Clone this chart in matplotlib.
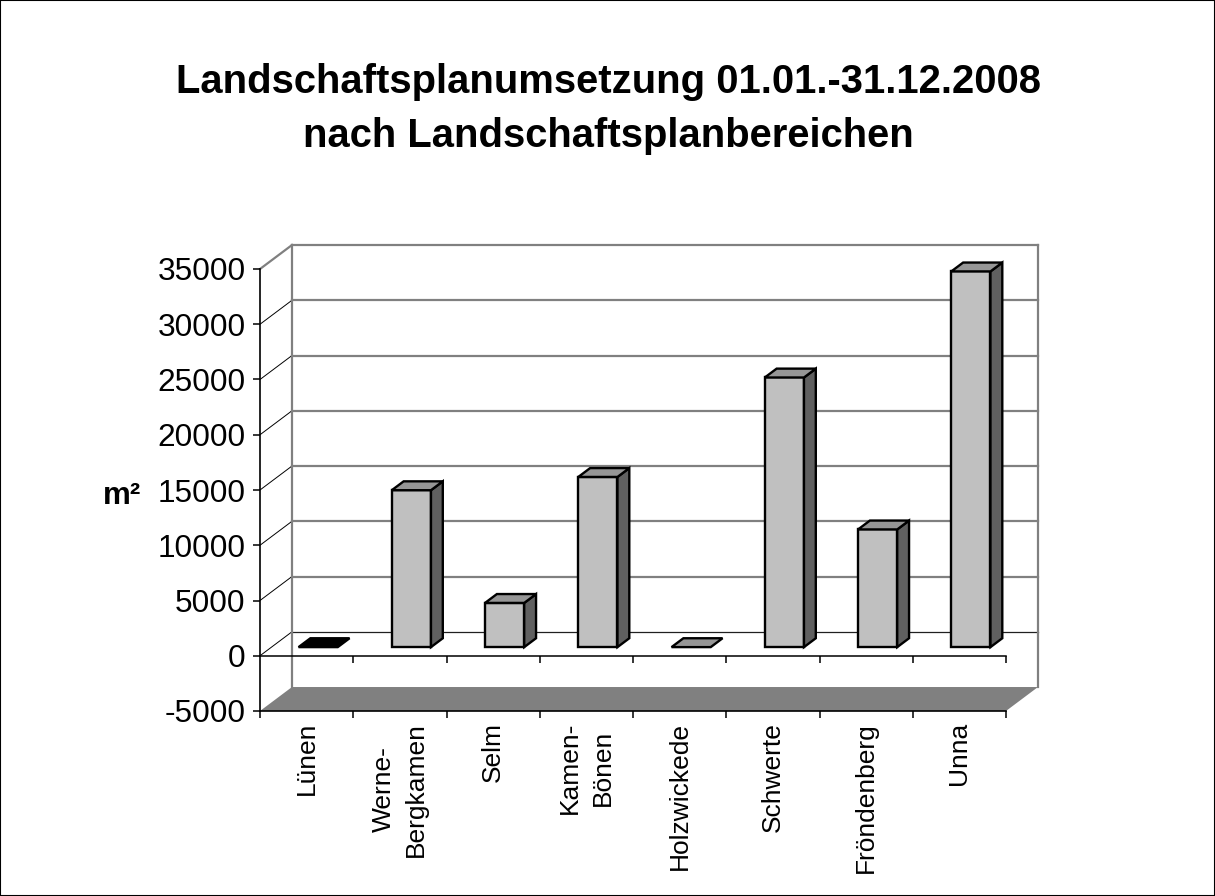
"""
Landschaftsplanumsetzung 2008 - Balken im Excel-3D-Stil nachgebaut.
"""
import numpy as np
import matplotlib
matplotlib.use('Agg')
import matplotlib.pyplot as plt
from matplotlib.patches import Polygon, Rectangle

plt.rcParams['font.family'] = ['Liberation Sans', 'DejaVu Sans']

#%% data
categories = ['Lünen', 'Werne-\nBergkamen', 'Selm', 'Kamen-\nBönen', 'Holzwickede',
              'Schwerte', 'Fröndenberg', 'Unna']
values = [0, 14200, 4000, 15400, 0, 24400, 10650, 34000]
yticks = [-5000, 0, 5000, 10000, 15000, 20000, 25000, 30000, 35000]
title_lines = ['Landschaftsplanumsetzung 01.01.-31.12.2008', 'nach Landschaftsplanbereichen']
ylabel = 'm²'

#%% 3d look (depth offset in data units)
DX = 0.343
DY = 2170
d0, d1 = 0.36, 0.73     # front / back depth of the bars
w = 0.42                # bar width
ymin, ymax = yticks[0], yticks[-1]
n = len(categories)

fig = plt.figure(figsize=(12.15, 8.96), dpi=100)
ax = fig.add_axes([260/1215, 1 - 711/896, 746/1215, 442/896])
ax.set_xlim(0, n)
ax.set_ylim(ymin, ymax)

wall = '#808080'
# floor
ax.add_patch(Polygon([(0, ymin), (n, ymin), (n + DX, ymin + DY), (DX, ymin + DY)],
                     closed=True, fc=wall, ec='none', clip_on=False, zorder=1))
# back wall grid
for v in yticks[1:]:
    if v == 0:
        ax.plot([DX, n + DX], [v + DY, v + DY], color='#202020', lw=0.9, clip_on=False, zorder=1)
    else:
        ax.plot([DX, n + DX], [v + DY, v + DY], color=wall, lw=1.6, clip_on=False, zorder=1)
    col, lw = (wall, 1.6) if v == ymax else ('black', 0.7)
    ax.plot([0, DX], [v, v + DY], color=col, lw=lw, clip_on=False, zorder=1)
for xe in [DX, n + DX]:
    ax.plot([xe, xe], [ymin + DY, ymax + DY], color=wall, lw=1.6, clip_on=False, zorder=1)

# bars
top_colors = ['black'] + ['#969696'] * (n - 1)
for i, v in enumerate(values):
    c = i + 0.5
    xl, xr = c - w/2, c + w/2
    f = [(xl + d0*DX, d0*DY), (xr + d0*DX, d0*DY)]
    b = [(xl + d1*DX, d1*DY), (xr + d1*DX, d1*DY)]
    top = [(f[0][0], v + f[0][1]), (f[1][0], v + f[1][1]),
           (b[1][0], v + b[1][1]), (b[0][0], v + b[0][1])]
    kw = dict(closed=True, ec='black', lw=1.7, joinstyle='miter', clip_on=False, zorder=3)
    if v != 0:
        ax.add_patch(Polygon([f[0], f[1], top[1], top[0]], fc='#C0C0C0', **kw))
        ax.add_patch(Polygon([f[1], b[1], top[2], top[1]], fc='#606060', **kw))
    ax.add_patch(Polygon(top, fc=top_colors[i], **kw))

# front zero line with ticks
ax.plot([0, n], [0, 0], color='black', lw=1.1, clip_on=False, zorder=2)
ax.vlines(np.arange(1, n + 1), -630, 0, color='black', lw=1.1, clip_on=False, zorder=2)

# axes
for s in ['top', 'right']:
    ax.spines[s].set_visible(False)
for s in ['left', 'bottom']:
    ax.spines[s].set_linewidth(1.2)
    ax.spines[s].set_zorder(4)
ax.set_facecolor('none')
ax.set_yticks(yticks)
ax.set_yticklabels([str(t) for t in yticks], fontsize=22.8)
ax.tick_params(axis='y', length=5, width=1.1, pad=5.5)
ax.set_xticks(np.arange(0, n + 1))
ax.set_xticklabels([])
ax.tick_params(axis='x', which='major', length=5, width=1.1)
ax.set_xticks(np.arange(n) + 0.5, minor=True)
ax.set_xticklabels(categories, minor=True, rotation=90, fontsize=19, linespacing=1.45)
ax.tick_params(axis='x', which='minor', length=0, pad=8)

ax.set_ylabel(ylabel, rotation=0, fontsize=22.5, fontweight='bold', va='center', ha='center')
ax.yaxis.set_label_coords((122 - 260) / 746, (711 - 496) / 442)

fig.text(608/1215, 1 - 93/896, title_lines[0], ha='center', va='baseline', fontsize=28.8, fontweight='bold')
fig.text(608/1215, 1 - 147/896, title_lines[1], ha='center', va='baseline', fontsize=28.8, fontweight='bold')

fig.patches.append(Rectangle((0, 0), 1, 1, transform=fig.transFigure, fill=False,
                             ec='black', lw=1.5))

fig.savefig('out.png', dpi=100)
